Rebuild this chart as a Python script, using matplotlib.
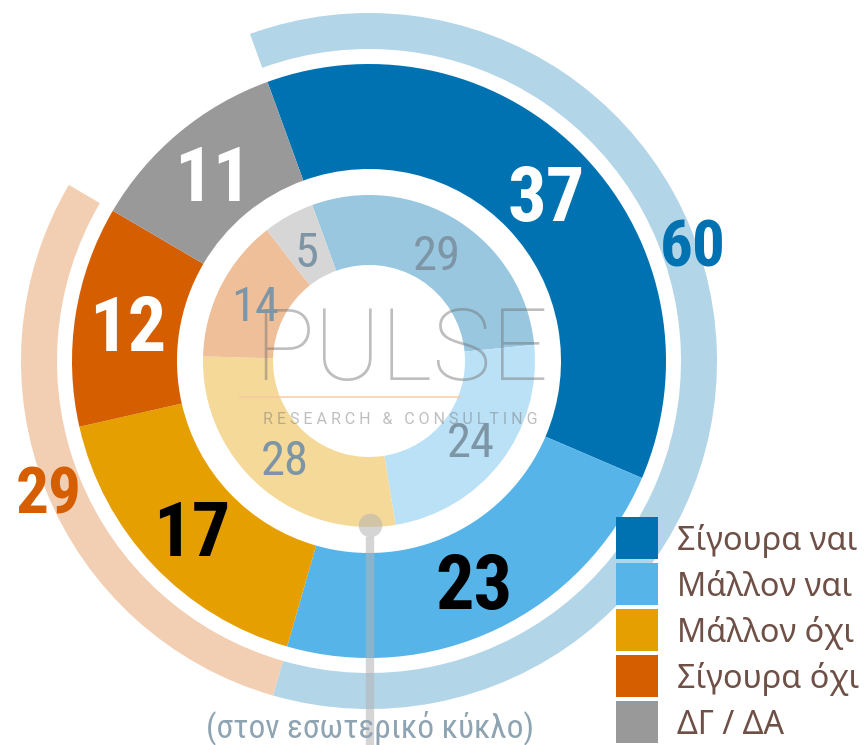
import numpy as np
import matplotlib.pyplot as plt
from matplotlib.colors import to_rgb
from matplotlib.patches import Rectangle

# data
categories = ['Σίγουρα ναι', 'Μάλλον ναι', 'Μάλλον όχι', 'Σίγουρα όχι', 'ΔΓ / ΔΑ']
outer_values = [37, 23, 17, 12, 11]
inner_values = [29, 24, 28, 14, 5]
summary_values = [60, 29]          # ναι σύνολο / όχι σύνολο
colors = ['#0072B2', '#56B4E9', '#E69F00', '#D55E00', '#999999']
label_colors = ['white', 'black', 'black', 'white', 'white']
note = '(στον εσωτερικό κύκλο)'

cond = ['Roboto Condensed', 'Liberation Sans Narrow', 'Roboto', 'DejaVu Sans']


def lighten(c, a):
    r, g, b = to_rgb(c)
    return (1 - a + a * r, 1 - a + a * g, 1 - a + a * b)


def mid_angles(vals):
    v = np.array(vals, float)
    cum = np.cumsum(v) - v / 2
    return np.deg2rad(start - cum / v.sum() * 360)


W, H = 867, 745
cx, cy = 369, 384
start = 110

fig = plt.figure(figsize=(W / 100, H / 100), dpi=100)
ax = fig.add_axes([0, 0, 1, 1])

# outer thin arcs (totals)
rest = 100 - sum(summary_values)
ax.pie(summary_values + [rest],
       colors=[lighten(colors[0], .3), lighten(colors[3], .3), 'none'],
       radius=348, center=(cx, cy), startangle=start, counterclock=False,
       wedgeprops=dict(width=36, linewidth=0))
# main ring
ax.pie(outer_values, colors=colors, radius=297, center=(cx, cy),
       startangle=start, counterclock=False,
       wedgeprops=dict(width=105, linewidth=0))
# inner ring
ax.pie(inner_values, colors=[lighten(c, .4) for c in colors], radius=166,
       center=(cx, cy), startangle=start, counterclock=False,
       wedgeprops=dict(width=70, linewidth=0))

# watermark
ax.text(401, 365, 'PULSE', fontsize=72, family='Roboto', weight='light',
        color='#707070', alpha=0.45, ha='center', va='baseline', zorder=5)
ax.text(400, 321, ' '.join('RESEARCH & CONSULTING'), fontsize=11.5,
        family='Roboto', color='#707070', alpha=0.45, ha='center',
        va='baseline', zorder=5)
ax.plot([240, 460], [348, 348], color='#f5c9a0', alpha=0.7, lw=1.5, zorder=5)

# labels main ring
for ang, v, lc in zip(mid_angles(outer_values), outer_values, label_colors):
    x = cx + 244 * np.cos(ang)
    y = cy + 244 * np.sin(ang)
    ax.text(x, y - 27.5, str(v), fontsize=55, family=cond, weight='bold',
            color=lc, ha='center', va='baseline', zorder=6)

# labels inner ring
for ang, v in zip(mid_angles(inner_values), inner_values):
    x = cx + 128 * np.cos(ang)
    y = cy + 128 * np.sin(ang)
    ax.text(x, y - 17.5, str(v), fontsize=35, family=cond,
            color='#7d95a5', ha='center', va='baseline', zorder=6)

# totals
for deg, v, c in zip([20, -158], summary_values, [colors[0], colors[3]]):
    x = cx + 345 * np.cos(np.deg2rad(deg))
    y = cy + 345 * np.sin(np.deg2rad(deg))
    ax.text(x, y - 23.5, str(v), fontsize=47, family=cond, weight='bold',
            color=c, ha='center', va='baseline', zorder=6)

# leader line to inner ring
ax.plot([370, 370], [208, 0], color='#b4b4b4', alpha=0.55, lw=6,
        solid_capstyle='butt', zorder=7)
ax.plot([370], [220], 'o', ms=17, color='#b4b4b4', alpha=0.55,
        mec='none', zorder=7)
ax.text(370, 17, note, fontsize=24, family=cond, color='#8fa4b2',
        ha='center', va='center', zorder=8)

# legend
for i, (lab, c) in enumerate(zip(categories, colors)):
    top = 517 + 46 * i
    ax.add_patch(Rectangle((616, H - top - 42), 42, 42, color=c, lw=0,
                           zorder=8))
    ax.text(677, H - top - 21 - 12, lab, fontsize=23.3, family='Noto Sans',
            color='#6e5046', ha='left', va='baseline', zorder=8)

ax.set_xlim(0, W)
ax.set_ylim(0, H)
ax.set_aspect('equal')
ax.axis('off')

fig.savefig('out.png', dpi=100)
